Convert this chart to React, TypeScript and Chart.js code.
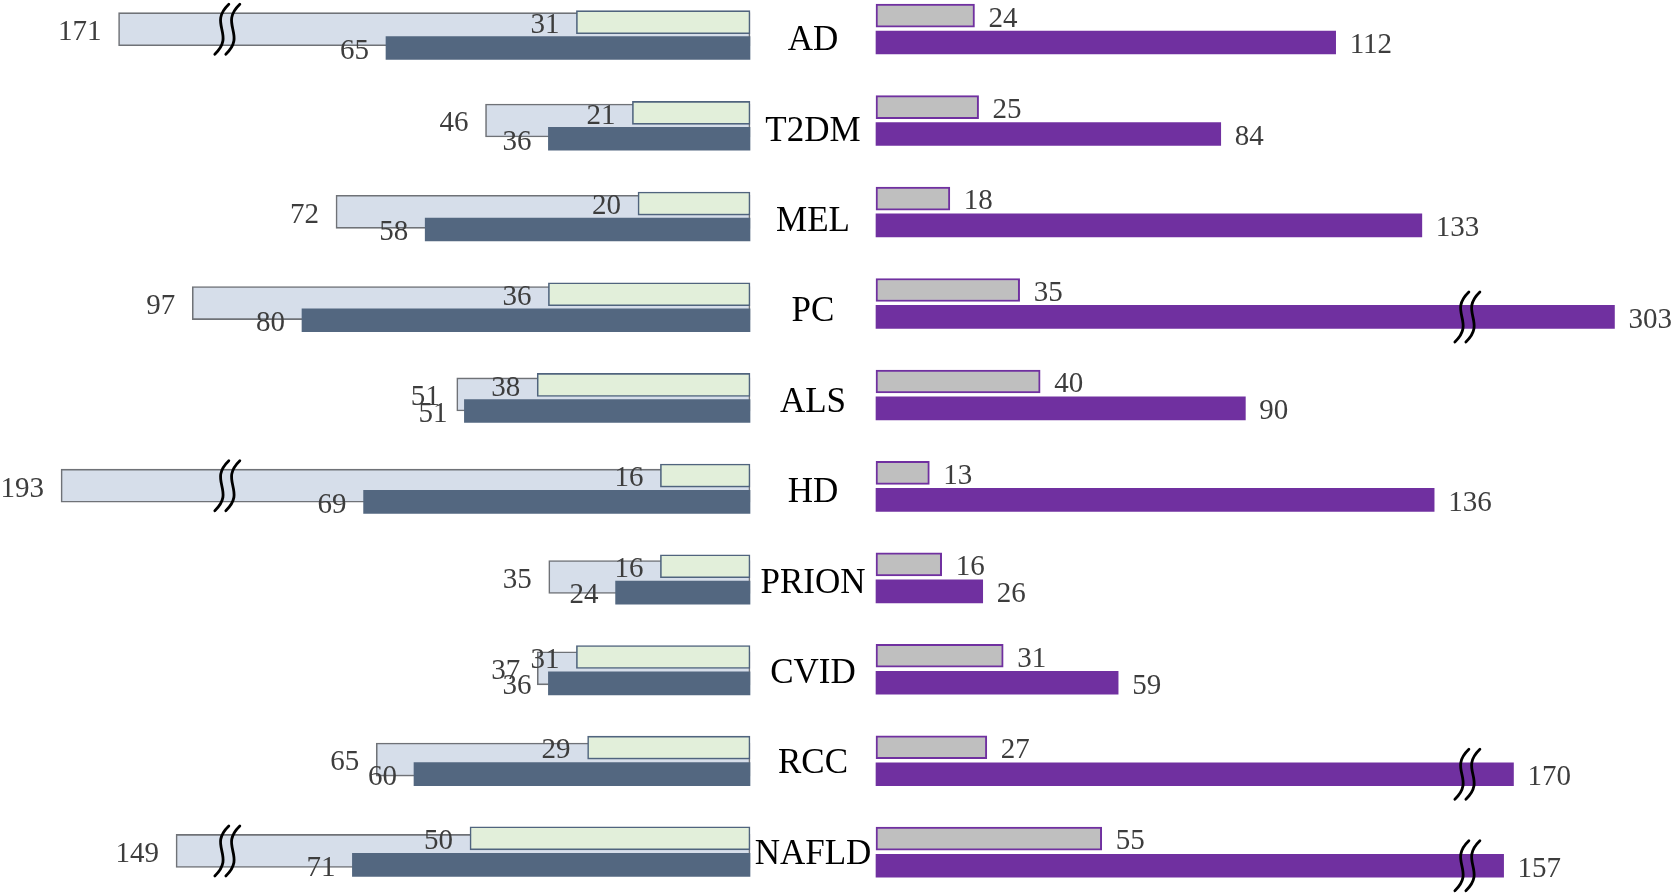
import React, { useEffect, useRef } from 'react';
import { Chart, registerables, LinearScale } from 'chart.js';

// ---- data ----
const categories = ['AD', 'T2DM', 'MEL', 'PC', 'ALS', 'HD', 'PRION', 'CVID', 'RCC', 'NAFLD'];
const leftTotal = [171, 46, 72, 97, 51, 193, 35, 37, 65, 149];
const leftGreen = [31, 21, 20, 36, 38, 16, 16, 31, 29, 50];
const leftDark = [65, 36, 58, 80, 51, 69, 24, 36, 60, 71];
const rightGray = [24, 25, 18, 35, 40, 13, 16, 31, 27, 55];
const rightPurple = [112, 84, 133, 303, 90, 136, 26, 59, 170, 157];

const W = 1677;
const H = 894;

// Linear scale with an axis break: values above breakAt are compressed
class BrokenScale extends LinearScale {
  static id = 'broken';
  static defaults = {};
  warp(v: any) {
    const o: any = this.options;
    if (o.breakAt == null || v == null || v <= o.breakAt) return v;
    return o.breakAt + (v - o.resumeAt) * o.compress;
  }
  getPixelForValue(v: any) {
    return super.getPixelForValue(this.warp(v));
  }
  getPixelForWarped(u: number) {
    return super.getPixelForValue(u);
  }
}

Chart.register(...registerables, BrokenScale);

const SERIF = '"Liberation Serif", "Times New Roman", serif';

function xAxis(type: string, zeroPx: number, pxPerUnit: number, reverse: boolean, extra: any = {}) {
  const range = W / pxPerUnit;
  let min: number, max: number;
  if (reverse) {
    max = zeroPx / pxPerUnit;
    min = max - range;
  } else {
    min = -zeroPx / pxPerUnit;
    max = min + range;
  }
  return { type, axis: 'x', display: false, reverse, min, max, bounds: 'data', offset: false, stacked: false, ...extra };
}

function yAxis(firstCenterPx: number, stepPx: number) {
  const min = -firstCenterPx / stepPx;
  const max = min + H / stepPx;
  return { type: 'linear', axis: 'y', display: false, reverse: true, min, max, bounds: 'data', offset: false, grace: 0 };
}

const toPoints = (arr: number[]) => arr.map((v, i) => ({ x: v, y: i }));

function drawBreak(ctx: CanvasRenderingContext2D, cx: number, cy: number) {
  const hh = 25;
  ctx.save();
  ctx.strokeStyle = '#000';
  ctx.lineWidth = 2.8;
  ctx.lineCap = 'round';
  for (const dx of [-5.5, 5.5]) {
    const x = cx + dx;
    ctx.beginPath();
    ctx.moveTo(x + 7, cy - hh);
    ctx.bezierCurveTo(x - 14, cy - hh * 0.2, x + 14, cy + hh * 0.2, x - 7, cy + hh);
    ctx.stroke();
  }
  ctx.restore();
}

const annotPlugin = {
  id: 'annot',
  afterDatasetsDraw(chart: any) {
    const ctx: CanvasRenderingContext2D = chart.ctx;
    ctx.save();
    // break marks
    chart.data.datasets.forEach((ds: any, di: number) => {
      const meta = chart.getDatasetMeta(di);
      const xs: any = chart.scales[ds.xAxisID];
      const o = xs.options;
      meta.data.forEach((bar: any, i: number) => {
        const v = ds.data[i].x;
        if (o.breakAt != null && o.markAt != null && v > o.breakAt) {
          drawBreak(ctx, xs.getPixelForWarped(o.markAt), bar.y);
        }
      });
    });
    // value labels
    ctx.font = `29px ${SERIF}`;
    ctx.fillStyle = '#3d3d3d';
    ctx.textBaseline = 'alphabetic';
    chart.data.datasets.forEach((ds: any, di: number) => {
      const meta = chart.getDatasetMeta(di);
      meta.data.forEach((bar: any, i: number) => {
        const v = ds.data[i].x;
        const yb = bar.y + 1 + 9.8;
        if (ds.labelSide === 'left') {
          ctx.textAlign = 'right';
          ctx.fillText(String(v), bar.x - 17, yb);
        } else {
          ctx.textAlign = 'left';
          ctx.fillText(String(v), bar.x + 14, yb);
        }
      });
    });
    // category labels
    const cx = (chart.scales.xL.getPixelForValue(0) + chart.scales.xR.getPixelForValue(0)) / 2;
    const yCat = chart.scales.yCat;
    ctx.font = `35px ${SERIF}`;
    ctx.fillStyle = '#000';
    ctx.textAlign = 'center';
    categories.forEach((c, i) => {
      ctx.fillText(c, cx, yCat.getPixelForValue(i) + 11.6);
    });
    ctx.restore();
  },
};

export default function App() {
  const ref = useRef<HTMLCanvasElement>(null);
  useEffect(() => {
    if (!ref.current) return;
    const common = { grouped: false, borderSkipped: false };
    const chart = new Chart(ref.current, {
      type: 'bar',
      data: {
        labels: categories,
        datasets: [
          {
            label: 'dark',
            data: toPoints(leftDark),
            xAxisID: 'xL',
            yAxisID: 'yD',
            backgroundColor: '#536780',
            borderWidth: 0,
            barThickness: 23,
            labelSide: 'left',
            ...common,
          },
          {
            label: 'green',
            data: toPoints(leftGreen),
            xAxisID: 'xL',
            yAxisID: 'yG',
            backgroundColor: '#e2efda',
            borderColor: '#50647e',
            borderWidth: 1.6,
            barThickness: 23,
            labelSide: 'left',
            ...common,
          },
          {
            label: 'total',
            data: toPoints(leftTotal),
            xAxisID: 'xLt',
            yAxisID: 'yLt',
            backgroundColor: '#d6deea',
            borderColor: '#6f7277',
            borderWidth: 1.6,
            barThickness: 33,
            labelSide: 'left',
            ...common,
          },
          {
            label: 'purple',
            data: toPoints(rightPurple),
            xAxisID: 'xR',
            yAxisID: 'yP',
            backgroundColor: '#7030a0',
            borderWidth: 0,
            barThickness: 23,
            labelSide: 'right',
            ...common,
          },
          {
            label: 'gray',
            data: toPoints(rightGray),
            xAxisID: 'xR',
            yAxisID: 'yGr',
            backgroundColor: '#bfbfbf',
            borderColor: '#7030a0',
            borderWidth: 2,
            barThickness: 23,
            labelSide: 'right',
            ...common,
          },
        ] as any,
      },
      options: {
        indexAxis: 'y',
        responsive: false,
        maintainAspectRatio: false,
        animation: false,
        devicePixelRatio: 1,
        events: [],
        layout: { padding: 0 },
        plugins: { legend: { display: false }, tooltip: { enabled: false } },
        scales: {
          xL: xAxis('linear', 750, 5.6, true),
          xLt: xAxis('broken', 750, 5.75, true, { breakAt: 100, resumeAt: 149.4, compress: 0.4545, markAt: 90.9 }),
          xR: xAxis('broken', 876, 4.104, false, { breakAt: 152, resumeAt: 152, compress: 0.185, markAt: 144.1 }),
          yG: yAxis(22.2, 90.68),
          yD: yAxis(48, 90.76),
          yLt: yAxis(29.2, 91.3),
          yGr: yAxis(15.7, 91.44),
          yP: yAxis(42.5, 91.47),
          yCat: yAxis(38.5, 90.4),
        } as any,
      },
      plugins: [annotPlugin],
    });
    return () => chart.destroy();
  }, []);
  return (
    <div style={{ position: 'fixed', left: 0, top: 0, width: W, height: H, background: '#fff' }}>
      <canvas ref={ref} width={W} height={H} style={{ width: W, height: H, display: 'block' }} />
    </div>
  );
}
